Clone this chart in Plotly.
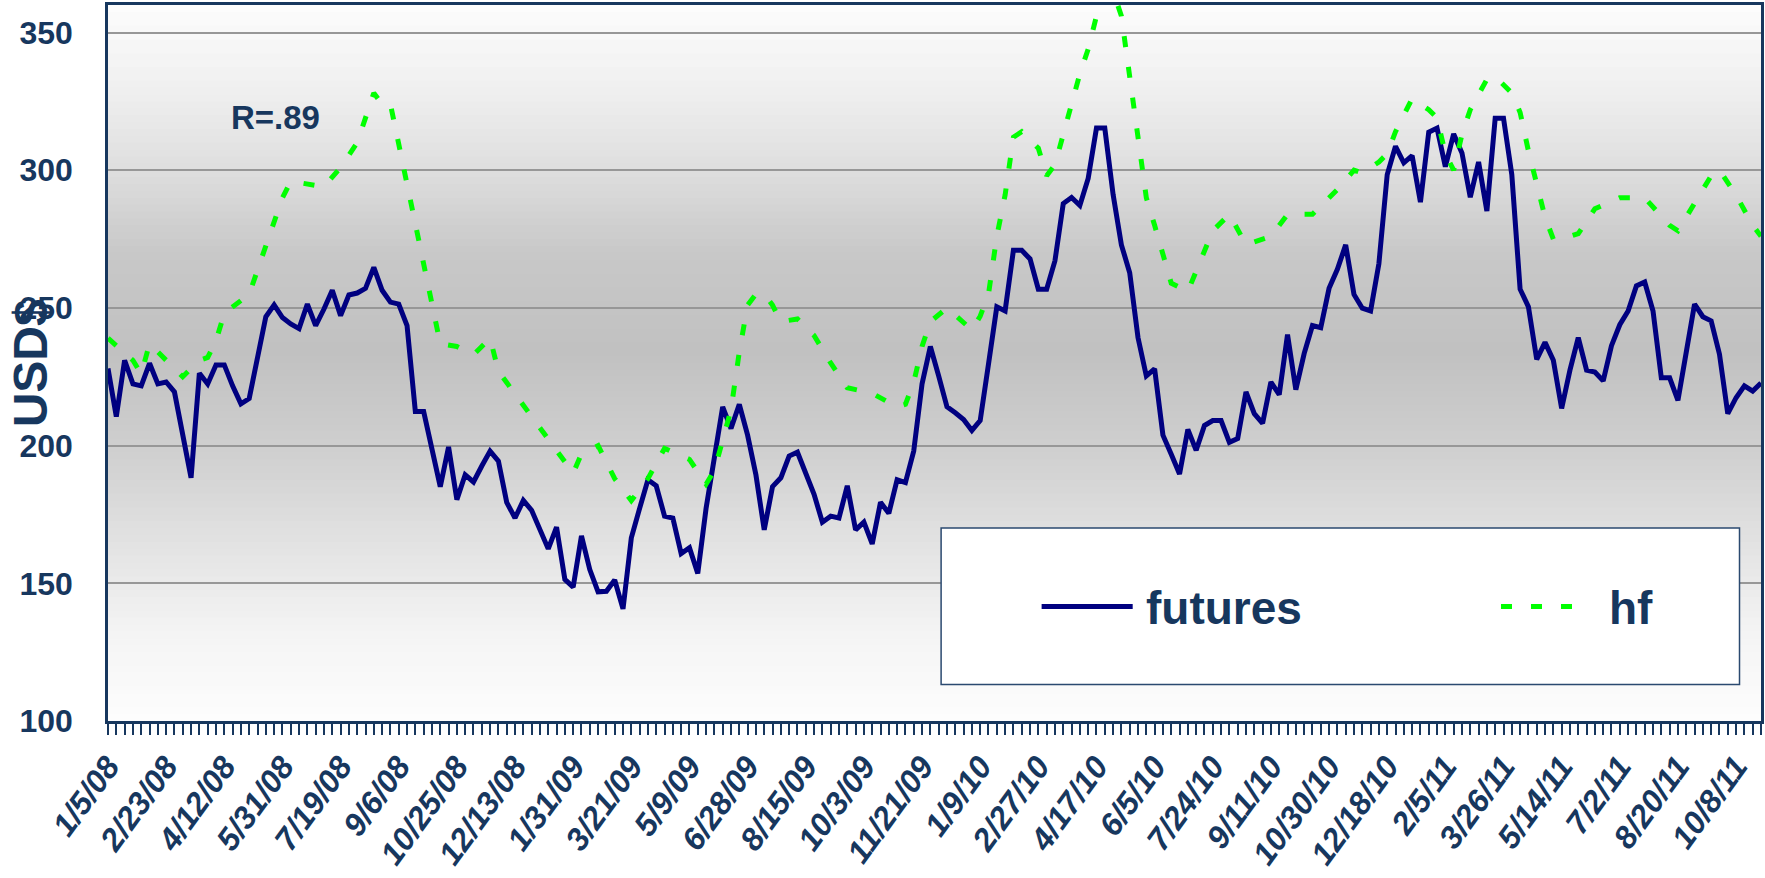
import pandas as pd
import plotly.graph_objects as go

# ---------------- data ----------------
start_date = "2008-01-05"
n_weeks = 200
week_dates = list(pd.date_range(start_date, periods=n_weeks, freq="7D"))
week_dates[77] = pd.Timestamp("2009-06-28")   # the source sheet has this Sunday date
week = list(range(n_weeks))

futures = [
    228, 210.5, 231, 222.4, 221.7, 229.9, 222.4, 223.1, 219.5, 204,
    188.3, 226.3, 222.4, 229.3, 229.3, 221.7, 215.2, 217.1, 231.3, 246.8,
    251.1, 246.5, 244.2, 242.5, 251.4, 243.6, 249.6, 256.4, 247.2, 254.7,
    255.4, 257.1, 264.7, 256.4, 252.1, 251.4, 243.6, 212.4, 212.4, 198.5,
    185.1, 199.5, 180.4, 189.4, 186.8, 192.6, 198, 194.4, 179.4, 173.7,
    180.1, 176.5, 169.6, 162.5, 170.4, 151.4, 148.6, 167.2, 155, 146.9,
    147.1, 151.2, 140.7, 166.5, 177.2, 187.6, 185.4, 174.4, 173.7, 160.8,
    162.9, 153.6, 177.2, 196.6, 214.1, 206.2, 215, 203.8, 189.4, 169.4,
    185.1, 188.3, 196.2, 197.6, 190.1, 182.3, 172.2, 174.4, 173.7, 185.4,
    169.4, 172.2, 164.3, 179.4, 175.4, 187.6, 186.6, 198, 222.4, 236,
    225.3, 214.1, 211.9, 209.5, 205.5, 209.1, 229.6, 250.4, 248.9, 270.9,
    270.9, 267.8, 256.8, 256.8, 267.1, 287.9, 290.1, 287.2, 297, 315.3,
    315.3, 291.2, 272.9, 262.8, 239.2, 225.3, 227.9, 203.8, 196.9, 189.7,
    205.9, 198.3, 207.3, 209.1, 209.1, 201.2, 202.6, 219.5, 211.6, 208.1,
    223.1, 218.5, 240.3, 220.3, 233.4, 243.6, 242.8, 257.1, 264, 272.9,
    254.9, 249.9, 248.9, 266.1, 298.4, 308.7, 302.7, 305.3, 288.4, 313.8,
    315.3, 301.3, 313.2, 306.3, 290.2, 303, 285.2, 318.9, 318.9, 298.4,
    256.8, 250.4, 231.3, 237.5, 231, 213.5, 227.4, 239.2, 227.4, 226.7,
    223.5, 236.3, 243.9, 248.9, 258, 259.4, 248.9, 224.6, 224.6, 216.4,
    233.9, 251.4, 246.8, 245.3, 233.2, 211.6, 217.4, 221.7, 219.8, 222.7,
]

hf_week = [
    0, 3, 4, 5, 9, 11, 12, 13, 14, 17, 21, 22, 26, 28, 30, 32, 33, 34, 40, 42,
    44, 46, 47, 56, 57, 59, 61, 63, 65, 67, 70, 72, 73, 74, 75, 76, 77, 78, 79, 80,
    81, 83, 85, 87, 89, 92, 95, 96, 97, 98, 99, 101, 104, 105, 106, 107, 108, 109, 110, 112,
    113, 114, 115, 116, 117, 118, 119, 120, 121, 122, 125, 126, 128, 130, 133, 135, 137, 140, 142, 145,
    148, 150, 151, 153, 154, 155, 157, 159, 160, 161, 162, 163, 164, 166, 167, 169, 170, 171, 172, 173,
    174, 175, 177, 179, 182, 183, 185, 188, 189, 191, 193, 194, 196, 198, 199,
]
hf_values = [
    239, 231, 226, 237, 225, 231, 232, 238, 248, 255, 290, 296, 294, 301, 310, 328, 324, 324, 237, 236,
    233, 239, 227, 190, 197, 200, 188, 180, 188, 199, 195, 186, 191, 202, 213, 234, 251, 255, 255, 251,
    245, 246, 240, 230, 221, 219, 214, 215, 223, 236, 245, 250, 242, 247, 255, 276, 291, 312, 314, 308,
    298, 302, 313, 324, 335, 344, 356, 364, 365, 356, 290, 280, 259, 256, 278, 284, 273, 276, 284, 284,
    293, 300, 299, 303, 306, 314, 326, 322, 319, 306, 300, 313, 322, 333, 334, 328, 321, 307, 295, 283,
    275, 275, 277, 286, 290, 290, 290, 280, 278, 288, 298, 300, 291, 280, 276,
]

y_ticks = [100, 150, 200, 250, 300, 350]
label_step = 7
tick_idx = list(range(0, n_weeks, label_step))
tick_text = [f"{week_dates[i].month}/{week_dates[i].day}/{week_dates[i].strftime('%y')}"
             for i in tick_idx]
date_text = [d.strftime("%m/%d/%Y") for d in week_dates]

# ---------------- style ----------------
NAVY_TXT = "#17375E"
FONT = "Liberation Sans, Arial, sans-serif"
y_min, y_max = 100, 360

fig = go.Figure()
fig.add_trace(go.Scatter(
    x=week, y=futures, mode="lines", name="futures",
    line=dict(color="#000080", width=5),
    customdata=date_text, hovertemplate="%{customdata}: %{y}<extra>futures</extra>",
))
fig.add_trace(go.Scatter(
    x=hf_week, y=hf_values, mode="lines", name="hf",
    line=dict(color="#00FF00", width=5, dash="11px,20px"),
    customdata=[date_text[i] for i in hf_week],
    hovertemplate="%{customdata}: %{y}<extra>hf</extra>",
))

# vertical gray gradient background of the plot area
stops = [(100, 253), (130, 245), (160, 229), (200, 206), (235, 193),
         (270, 200), (300, 222), (330, 240), (360, 252)]

def level_at(v):
    for (v0, c0), (v1, c1) in zip(stops[:-1], stops[1:]):
        if v0 <= v <= v1:
            return c0 + (c1 - c0) * (v - v0) / (v1 - v0)
    return stops[-1][1]

shapes = []
band = 2.5
v = y_min
while v < y_max - 1e-9:
    lv = int(round(level_at(v + band / 2)))
    col = f"rgb({lv},{lv},{lv})"
    shapes.append(dict(type="rect", xref="paper", yref="y", x0=0, x1=1,
                       y0=v, y1=min(v + band + 0.3, y_max), line=dict(width=0),
                       fillcolor=col, layer="below"))
    v += band

# legend box drawn manually
shapes.append(dict(type="rect", xref="paper", yref="paper", x0=0.504, x1=0.987,
                   y0=0.051, y1=0.2696, line=dict(color="#2B4A70", width=1.5),
                   fillcolor="white", layer="above"))
shapes.append(dict(type="line", xref="paper", yref="paper", x0=0.5648, x1=0.6199,
                   y0=0.160, y1=0.160, line=dict(color="#000080", width=5), layer="above"))
shapes.append(dict(type="line", xref="paper", yref="paper", x0=0.8427, x1=0.8861,
                   y0=0.160, y1=0.160, line=dict(color="#00FF00", width=5, dash="11px,19px"),
                   layer="above"))

annotations = [
    dict(text="futures", xref="paper", yref="paper", x=0.627, y=0.1585,
         xanchor="left", yanchor="middle", showarrow=False,
         font=dict(family=FONT, size=46, color=NAVY_TXT, weight="bold")),
    dict(text="hf", xref="paper", yref="paper", x=0.9066, y=0.1585,
         xanchor="left", yanchor="middle", showarrow=False,
         font=dict(family=FONT, size=46, color=NAVY_TXT, weight="bold")),
    dict(text="R=.89", xref="paper", yref="paper", x=0.1016, y=0.843,
         xanchor="center", yanchor="middle", showarrow=False,
         font=dict(family=FONT, size=33, color=NAVY_TXT, weight="bold")),
    dict(text="USD$", xref="paper", yref="paper", x=-0.047, y=0.5,
         xanchor="center", yanchor="middle", showarrow=False, textangle=-90,
         font=dict(family=FONT, size=48, color=NAVY_TXT, weight="bold")),
]

fig.update_layout(
    width=1765, height=878,
    margin=dict(l=108, r=4, t=5, b=157, autoexpand=False),
    paper_bgcolor="white", plot_bgcolor="white",
    showlegend=False,
    shapes=shapes, annotations=annotations,
    font=dict(family=FONT, color=NAVY_TXT),
)

fig.update_xaxes(
    range=[0, n_weeks - 1],
    tickmode="array", tickvals=tick_idx, ticktext=tick_text, tickangle=-54,
    ticks="outside", ticklen=11, tickwidth=2, tickcolor=NAVY_TXT,
    showline=True, linecolor=NAVY_TXT, linewidth=2.5, mirror=True,
    showgrid=False, zeroline=False, automargin=False,
    tickfont=dict(family=FONT, size=32, color=NAVY_TXT, weight="bold", style="italic"),
    minor=dict(ticks="outside", dtick=1, tick0=0, ticklen=11,
               tickwidth=2, tickcolor=NAVY_TXT, showgrid=False),
    ticklabelstandoff=0,
)
fig.update_yaxes(
    range=[y_min, y_max], tickvals=y_ticks, ticks="",
    showgrid=True, gridcolor="#979797", gridwidth=2,
    showline=True, linecolor=NAVY_TXT, linewidth=2.5, mirror=True,
    zeroline=False, automargin=False,
    tickfont=dict(family=FONT, size=32, color=NAVY_TXT, weight="bold"),
    ticklabelstandoff=26,
)

fig.write_html("out.html", config={"displayModeBar": False},
               post_script="document.body.style.margin='0';")
